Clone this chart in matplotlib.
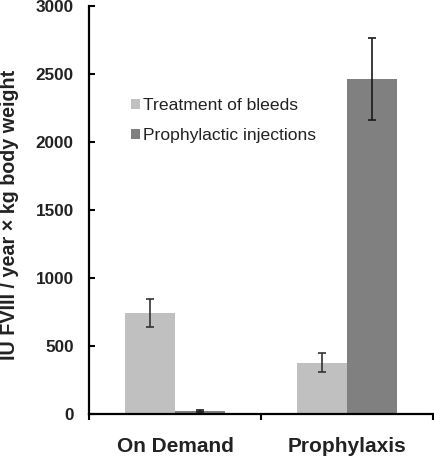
import numpy as np
import matplotlib
matplotlib.use('Agg')
import matplotlib.pyplot as plt

plt.rcParams['font.family'] = ['Liberation Sans', 'DejaVu Sans']

groups = ['On Demand', 'Prophylaxis']
series = ['Treatment of bleeds', 'Prophylactic injections']
bleeds = [740, 375]
bleeds_err = [105, 68]
prophy = [20, 2460]
prophy_err = [10, 300]
colors = ['#c0c0c0', '#808080']

fig = plt.figure(figsize=(4.35, 4.58), dpi=100)
ax = fig.add_axes([89 / 435, 1 - 413.7 / 458, 344 / 435, 408 / 458])

x = np.arange(len(groups))
w = 50 / 172
ax.bar(x - w / 2, bleeds, w, color=colors[0], label=series[0])
ax.bar(x + w / 2, prophy, w, color=colors[1], label=series[1])
ax.errorbar(x - w / 2, bleeds, yerr=bleeds_err, fmt='none', ecolor='#333333',
            elinewidth=1.2, capsize=3.2, capthick=1.2)
ax.errorbar(x + w / 2, prophy, yerr=prophy_err, fmt='none', ecolor='#1a1a1a',
            elinewidth=1.2, capsize=3.2, capthick=1.2)

ax.set_xlim(-0.5, 1.5)
ax.set_ylim(0, 3000)
ax.set_yticks([0, 500, 1000, 1500, 2000, 2500, 3000])

ax.set_xticks(x)
ax.set_xticklabels(groups, fontsize=15, fontweight='bold', color='#222222')
ax.set_xticks([-0.5, 0.5, 1.5], minor=True)
ax.tick_params(axis='x', which='major', length=0, pad=17)
ax.tick_params(axis='x', which='minor', direction='out', length=4, width=1.5)
ax.tick_params(axis='y', direction='in', length=4, width=1.5, pad=11,
               labelsize=12.3, labelcolor='#222222')
for lbl in ax.get_yticklabels():
    lbl.set_fontweight('bold')

for s in ['top', 'right']:
    ax.spines[s].set_visible(False)
for s in ['left', 'bottom']:
    ax.spines[s].set_linewidth(1.6)

fig.text(15 / 435, 1 - 214.5 / 458, 'IU FVIII / year \u00d7 kg body weight',
         rotation=90, rotation_mode='anchor', ha='center', va='baseline',
         fontsize=14.2, fontweight='bold', color='#222222')

ax.legend(loc='upper left', bbox_to_anchor=(0.122, 0.773), frameon=False,
          fontsize=12.6, handlelength=0.52, handleheight=0.52,
          handletextpad=0.15, labelspacing=0.85, borderpad=0,
          borderaxespad=0, labelcolor='#222222')

fig.savefig('out.png', dpi=100)
